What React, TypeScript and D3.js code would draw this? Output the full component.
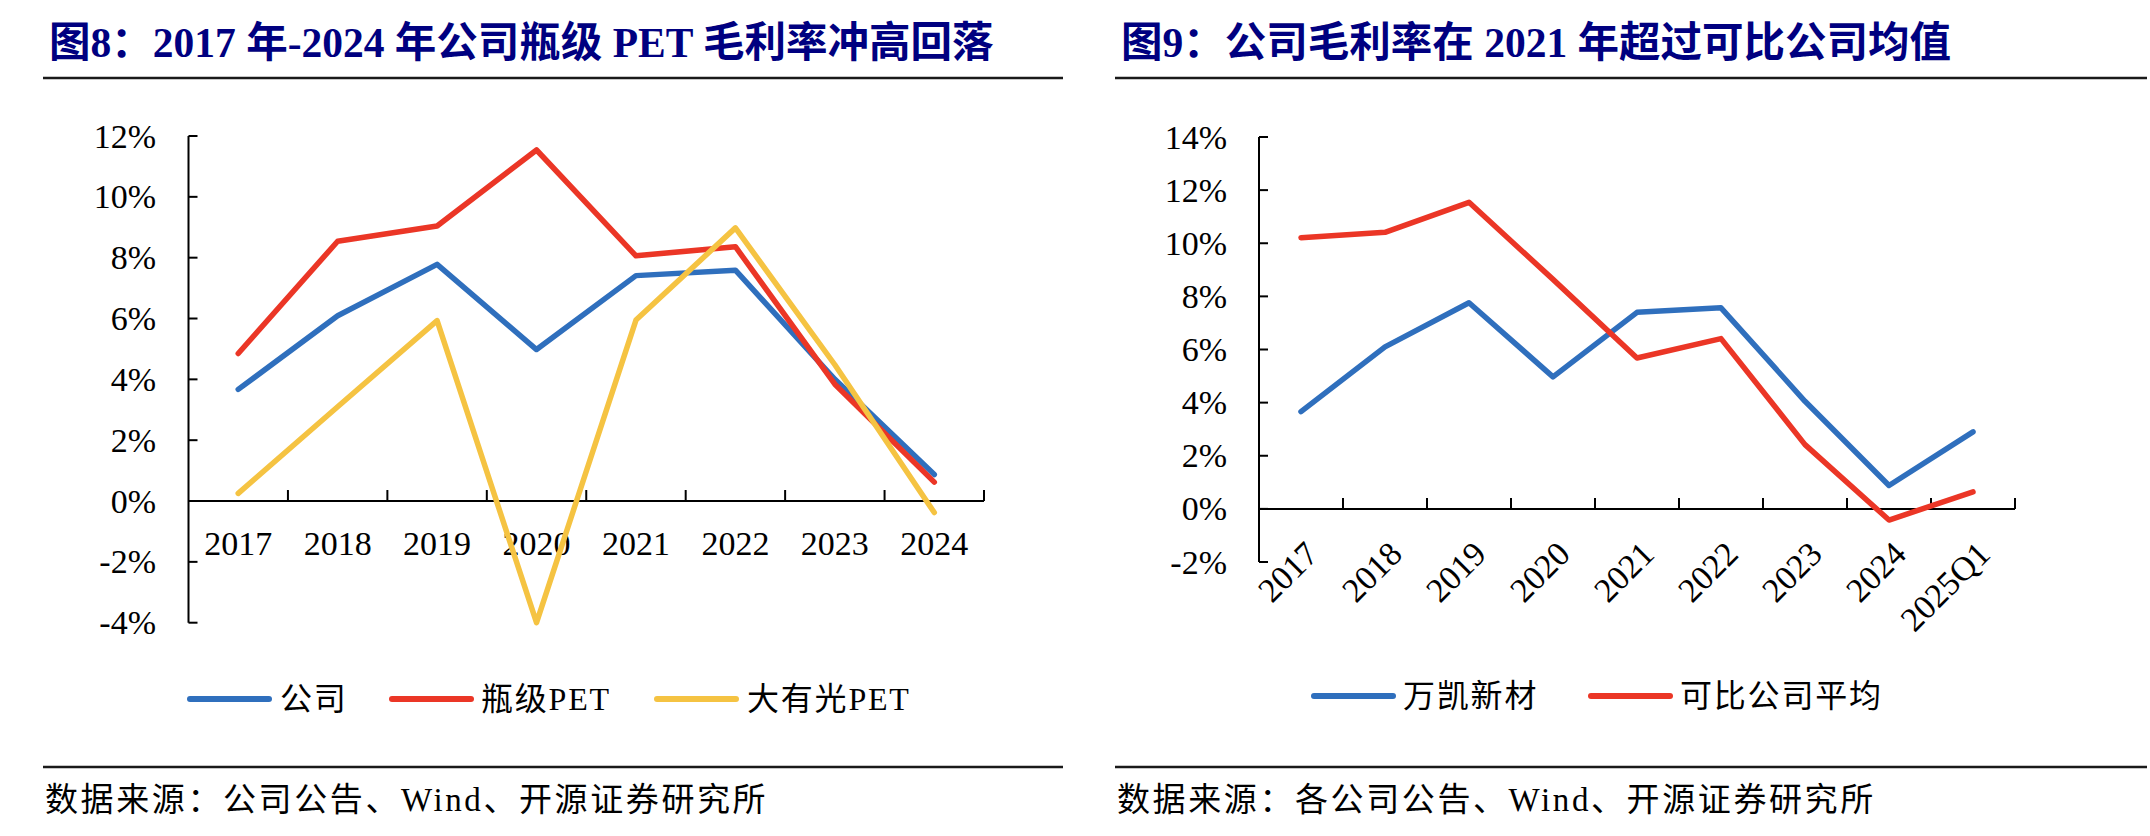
import React from 'react';
import * as d3 from 'd3';

// ---------- Data (percent) ----------
const yearsA = ['2017', '2018', '2019', '2020', '2021', '2022', '2023', '2024'];
const companyA = [3.67, 6.09, 7.78, 4.98, 7.41, 7.59, 4.0, 0.87];
const bottlePetA = [4.85, 8.54, 9.04, 11.54, 8.06, 8.36, 3.84, 0.62];
const brightPetA = [0.25, 3.1, 5.93, -4.0, 5.95, 8.98, 4.48, -0.38];
const ticksA = [-4, -2, 0, 2, 4, 6, 8, 10, 12];
const namesA = ['公司', '瓶级PET', '大有光PET'];

const periodsB = ['2017', '2018', '2019', '2020', '2021', '2022', '2023', '2024', '2025Q1'];
const wankaiB = [3.66, 6.1, 7.76, 4.97, 7.4, 7.57, 4.05, 0.88, 2.9];
const peersB = [10.21, 10.41, 11.54, 8.64, 5.68, 6.41, 2.42, -0.42, 0.64];
const ticksB = [-2, 0, 2, 4, 6, 8, 10, 12, 14];
const namesB = ['万凯新材', '可比公司平均'];

const titleA = '图8：2017 年-2024 年公司瓶级 PET 毛利率冲高回落';
const titleB = '图9：公司毛利率在 2021 年超过可比公司均值';
const sourceA = '数据来源：公司公告、Wind、开源证券研究所';
const sourceB = '数据来源：各公司公告、Wind、开源证券研究所';

const BLUE = '#2F6FBD';
const RED = '#EB3626';
const YELLOW = '#F5C342';
const NAVY = '#000080';
const SERIF = "'Liberation Serif', 'Times New Roman', 'Noto Sans CJK SC', serif";
const TITLE_FONT = "'Liberation Serif', 'Times New Roman', 'Noto Sans CJK SC', serif";

type Series = { name: string; values: number[]; color: string };

type PanelProps = {
  title: string;
  source: string;
  cats: string[];
  series: Series[];
  ticks: number[];
  left: number;
  right: number;
  titleX: number;
  xRange: [number, number];
  yRange: [number, number];
  tickLabelRight: number;
  rotated: boolean;
  legend: { lineX: number; textX: number }[];
  legendY: number;
};

function Panel(p: PanelProps) {
  const x = d3.scaleBand<string>().domain(p.cats).range(p.xRange).padding(0);
  const y = d3
    .scaleLinear()
    .domain([p.ticks[0], p.ticks[p.ticks.length - 1]])
    .range(p.yRange);
  const y0 = y(0);
  const axisX = p.xRange[0];
  const bw = x.bandwidth();
  const line = d3
    .line<number>()
    .x((_, i) => (x(p.cats[i]) as number) + bw / 2)
    .y((v) => y(v));

  return (
    <g>
      <text
        x={p.titleX}
        y={57}
        fontFamily={TITLE_FONT}
        fontWeight="bold"
        fontSize={41.5}
        fill={NAVY}
      >
        {p.title}
      </text>
      <line x1={p.left} x2={p.right} y1={78} y2={78} stroke="#1a1a1a" strokeWidth={2.5} />

      <line
        x1={axisX}
        x2={axisX}
        y1={y(p.ticks[0])}
        y2={y(p.ticks[p.ticks.length - 1])}
        stroke="#000"
        strokeWidth={2}
      />
      {p.ticks.map((t) => (
        <g key={t}>
          <line x1={axisX} x2={axisX + 9} y1={y(t)} y2={y(t)} stroke="#000" strokeWidth={2} />
          <text
            x={p.tickLabelRight}
            y={y(t) + 11.5}
            textAnchor="end"
            fontFamily={SERIF}
            fontSize={34}
            fill="#000"
          >
            {`${t}%`}
          </text>
        </g>
      ))}

      <line x1={axisX} x2={p.xRange[1]} y1={y0} y2={y0} stroke="#000" strokeWidth={2} />
      {p.cats.map((c) => (
        <line
          key={'t' + c}
          x1={(x(c) as number) + bw}
          x2={(x(c) as number) + bw}
          y1={y0}
          y2={y0 - 11}
          stroke="#000"
          strokeWidth={2}
        />
      ))}
      {p.cats.map((c) => {
        const cx = (x(c) as number) + bw / 2;
        if (p.rotated) {
          const px = cx + 19;
          const py = y0 + 47;
          return (
            <text
              key={'l' + c}
              x={px}
              y={py}
              textAnchor="end"
              transform={`rotate(-45 ${px} ${py})`}
              fontFamily={SERIF}
              fontSize={34}
              fill="#000"
            >
              {c}
            </text>
          );
        }
        return (
          <text
            key={'l' + c}
            x={cx}
            y={555}
            textAnchor="middle"
            fontFamily={SERIF}
            fontSize={34}
            fill="#000"
          >
            {c}
          </text>
        );
      })}

      {p.series.map((s) => (
        <path
          key={s.name}
          d={line(s.values) || ''}
          fill="none"
          stroke={s.color}
          strokeWidth={5.5}
          strokeLinejoin="round"
          strokeLinecap="round"
        />
      ))}

      {p.series.map((s, i) => (
        <g key={'lg' + s.name}>
          <line
            x1={p.legend[i].lineX}
            x2={p.legend[i].lineX + 79}
            y1={p.legendY}
            y2={p.legendY}
            stroke={s.color}
            strokeWidth={6}
            strokeLinecap="round"
          />
          <text
            x={p.legend[i].textX}
            y={p.legendY + 11}
            fontFamily={SERIF}
            fontSize={32}
            letterSpacing={1.8}
            fill="#000"
          >
            {s.name}
          </text>
        </g>
      ))}

      <line x1={p.left} x2={p.right} y1={767} y2={767} stroke="#1a1a1a" strokeWidth={2.5} />
      <text
        x={p.titleX - 4}
        y={811}
        fontFamily={SERIF}
        fontSize={33}
        letterSpacing={2.6}
        fill="#000"
      >
        {p.source}
      </text>
    </g>
  );
}

export default function App() {
  const seriesA: Series[] = [
    { name: namesA[0], values: companyA, color: BLUE },
    { name: namesA[1], values: bottlePetA, color: RED },
    { name: namesA[2], values: brightPetA, color: YELLOW },
  ];
  const seriesB: Series[] = [
    { name: namesB[0], values: wankaiB, color: BLUE },
    { name: namesB[1], values: peersB, color: RED },
  ];
  return (
    <div style={{ position: 'absolute', left: 0, top: 0, width: 2150, height: 836, background: '#fff' }}>
      <svg width={2150} height={836} viewBox="0 0 2150 836" style={{ display: 'block' }}>
        <rect width={2150} height={836} fill="#fff" />
        <Panel
          title={titleA}
          source={sourceA}
          cats={yearsA}
          series={seriesA}
          ticks={ticksA}
          left={43}
          right={1063}
          titleX={49}
          xRange={[188.5, 984]}
          yRange={[622.7, 136]}
          tickLabelRight={156}
          rotated={false}
          legend={[
            { lineX: 190, textX: 280 },
            { lineX: 392, textX: 481 },
            { lineX: 657, textX: 747 },
          ]}
          legendY={699}
        />
        <Panel
          title={titleB}
          source={sourceB}
          cats={periodsB}
          series={seriesB}
          ticks={ticksB}
          left={1115}
          right={2147}
          titleX={1121}
          xRange={[1259, 2015]}
          yRange={[562, 137]}
          tickLabelRight={1227}
          rotated={true}
          legend={[
            { lineX: 1314, textX: 1403 },
            { lineX: 1591, textX: 1680 },
          ]}
          legendY={696}
        />
      </svg>
    </div>
  );
}
